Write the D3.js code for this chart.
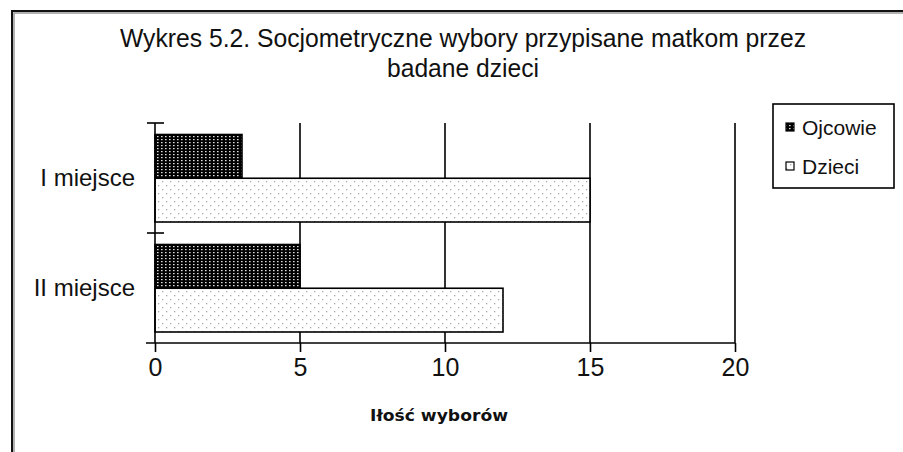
<!DOCTYPE html>
<html>
<head>
<meta charset="utf-8">
<script src="https://cdn.jsdelivr.net/npm/d3@7"></script>
<style>
  body { margin: 0; background: #fff; }
  svg { display: block; }
</style>
</head>
<body>
<div id="chart"></div>
<script>
// data
var categories = ["I miejsce", "II miejsce"];
var seriesNames = ["Ojcowie", "Dzieci"];
var ojcowie = [3, 5];
var dzieci = [15, 12];
var xTicks = [0, 5, 10, 15, 20];
var titleLines = ["Wykres 5.2. Socjometryczne wybory przypisane matkom przez", "badane dzieci"];
var xLabel = "Iłość wyborów";

var svgWidth = 903, svgHeight = 452;
var font = "'Liberation Sans', Arial, sans-serif";

var svg = d3.select("#chart").append("svg")
  .attr("width", svgWidth)
  .attr("height", svgHeight);

// patterns
var defs = svg.append("defs");
var pDark = defs.append("pattern")
  .attr("id", "patDark")
  .attr("patternUnits", "userSpaceOnUse")
  .attr("width", 4).attr("height", 3);
pDark.append("rect").attr("width", 4).attr("height", 3).attr("fill", "#000");
pDark.append("rect").attr("x", 1).attr("y", 1).attr("width", 1.6).attr("height", 1.2)
  .attr("fill", "#ddd");

var pLight = defs.append("pattern")
  .attr("id", "patLight")
  .attr("patternUnits", "userSpaceOnUse")
  .attr("width", 8).attr("height", 8);
pLight.append("rect").attr("width", 8).attr("height", 8).attr("fill", "#fff");
pLight.append("rect").attr("x", 2).attr("y", 2).attr("width", 1.3).attr("height", 1.3).attr("fill", "#aaa");
pLight.append("rect").attr("x", 6).attr("y", 6).attr("width", 1.3).attr("height", 1.3).attr("fill", "#aaa");

var fills = { "Ojcowie": "url(#patDark)", "Dzieci": "url(#patLight)" };

// outer frame (with a soft grey edge inside)
svg.append("rect")
  .attr("x", 14).attr("y", 13)
  .attr("width", svgWidth + 20).attr("height", svgHeight + 20)
  .attr("fill", "none")
  .attr("stroke", "#999")
  .attr("stroke-width", 1.5);
svg.append("rect")
  .attr("x", 12).attr("y", 11)
  .attr("width", svgWidth + 20).attr("height", svgHeight + 20)
  .attr("fill", "none")
  .attr("stroke", "#111")
  .attr("stroke-width", 2);

// title
svg.selectAll(".title")
  .data(titleLines)
  .enter()
  .append("text")
  .attr("class", "title")
  .attr("x", 463)
  .attr("y", (d, i) => 47 + i * 30)
  .attr("text-anchor", "middle")
  .attr("font-family", font)
  .attr("font-size", "25px")
  .attr("fill", "#111")
  .attr("textLength", (d, i) => i === 0 ? 686 : 152)
  .attr("lengthAdjust", "spacingAndGlyphs")
  .text(d => d);

// scales
var xScale = d3.scaleLinear().domain([0, 20]).range([155, 735]);
var yScale = d3.scaleBand().domain(categories).range([123, 343]);
var inner = d3.scaleBand().domain(seriesNames).range([11.5, yScale.bandwidth() - 11]);

// gridlines
svg.selectAll(".grid")
  .data(xTicks.slice(1))
  .enter()
  .append("line")
  .attr("class", "grid")
  .attr("x1", d => xScale(d)).attr("x2", d => xScale(d))
  .attr("y1", 123).attr("y2", 343)
  .attr("stroke", "#000")
  .attr("stroke-width", 1.6);

// bars
var rows = categories.map((c, i) => ({ cat: c, values: [
  { name: "Ojcowie", value: ojcowie[i] },
  { name: "Dzieci", value: dzieci[i] }
]}));

var groups = svg.selectAll(".cat")
  .data(rows)
  .enter()
  .append("g")
  .attr("class", "cat")
  .attr("transform", d => `translate(0, ${yScale(d.cat)})`);

groups.selectAll("rect")
  .data(d => d.values)
  .enter()
  .append("rect")
  .attr("x", xScale(0))
  .attr("y", d => inner(d.name))
  .attr("width", d => xScale(d.value) - xScale(0))
  .attr("height", inner.bandwidth())
  .attr("fill", d => fills[d.name])
  .attr("stroke", "#000")
  .attr("stroke-width", 1.6);

// x axis
var xAxis = d3.axisBottom(xScale)
  .tickValues(xTicks)
  .tickSize(9)
  .tickPadding(6)
  .tickSizeOuter(0);

var gx = svg.append("g")
  .attr("transform", "translate(0, 343)")
  .call(xAxis);
gx.select(".domain")
  .attr("d", "M146,0H735")
  .attr("stroke", "#000")
  .attr("stroke-width", 1.6);
gx.selectAll(".tick line").attr("stroke", "#000").attr("stroke-width", 1.6);
gx.selectAll(".tick text")
  .attr("font-family", font)
  .attr("font-size", "25px")
  .attr("fill", "#111");

// y axis
var yAxis = d3.axisLeft(yScale)
  .tickSize(0)
  .tickPadding(20);

var gy = svg.append("g")
  .attr("transform", `translate(${xScale(0)}, 0)`)
  .call(yAxis);
gy.select(".domain").attr("d", "M0,123V343").attr("stroke", "#000").attr("stroke-width", 1.6);
gy.selectAll(".tick text")
  .attr("font-family", font)
  .attr("font-size", "24px")
  .attr("fill", "#111");

// y ticks at band edges (crossing)
svg.selectAll(".ytick")
  .data(categories)
  .enter()
  .append("line")
  .attr("class", "ytick")
  .attr("x1", xScale(0) - 8).attr("x2", xScale(0) + 9)
  .attr("y1", d => yScale(d)).attr("y2", d => yScale(d))
  .attr("stroke", "#000")
  .attr("stroke-width", 1.6);

// x label
svg.append("text")
  .attr("x", 439)
  .attr("y", 421)
  .attr("text-anchor", "middle")
  .attr("font-family", "'DejaVu Sans', Verdana, sans-serif")
  .attr("font-weight", "bold")
  .attr("font-size", "15px")
  .attr("fill", "#111")
  .attr("textLength", 138)
  .attr("lengthAdjust", "spacingAndGlyphs")
  .text(xLabel);

// legend
var legend = svg.append("g");
legend.append("rect")
  .attr("x", 773).attr("y", 104)
  .attr("width", 121).attr("height", 84)
  .attr("fill", "#fff")
  .attr("stroke", "#000")
  .attr("stroke-width", 1.6);

var items = legend.selectAll(".item")
  .data(seriesNames)
  .enter()
  .append("g")
  .attr("class", "item")
  .attr("transform", (d, i) => `translate(0, ${127 + i * 39})`);

items.append("rect")
  .attr("x", 786).attr("y", -4)
  .attr("width", 8).attr("height", 8)
  .attr("fill", d => fills[d])
  .attr("stroke", "#000")
  .attr("stroke-width", 1.2);

items.append("text")
  .attr("x", 802)
  .attr("y", 7.5)
  .attr("font-family", font)
  .attr("font-size", "21px")
  .attr("fill", "#111")
  .text(d => d);
</script>
</body>
</html>
